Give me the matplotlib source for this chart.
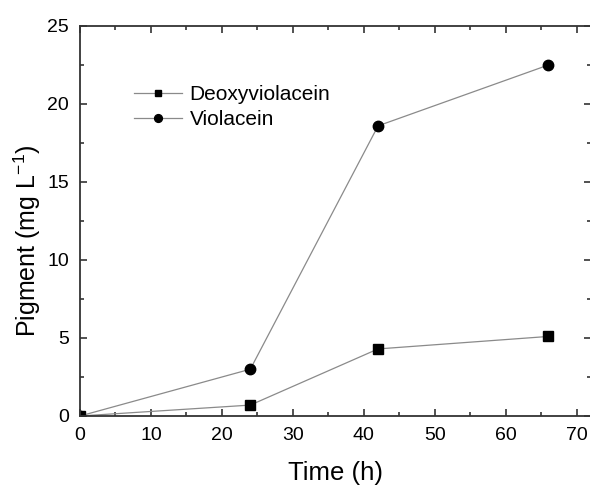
import matplotlib
matplotlib.use("Agg")
import matplotlib.pyplot as plt
from matplotlib.ticker import MultipleLocator

plt.rcParams['font.family'] = ['Liberation Sans', 'DejaVu Sans']
plt.rcParams['mathtext.fontset'] = 'custom'
plt.rcParams['mathtext.rm'] = 'Liberation Sans'
plt.rcParams['mathtext.it'] = 'Liberation Sans:italic'

time_h = [0, 24, 42, 66]
deoxyviolacein = [0.0, 0.7, 4.3, 5.1]
violacein = [0.0, 3.0, 18.6, 22.5]

W, H = 590, 487
fig = plt.figure(figsize=(W / 100, H / 100), dpi=100)
ax = fig.add_axes([80 / W, 1 - 416 / H, 511 / W, 390 / H])

line_kw = dict(color='#8a8a8a', linewidth=0.9, markerfacecolor='black',
               markeredgecolor='black')
ax.plot(time_h, deoxyviolacein, marker='s', markersize=6.5, label='Deoxyviolacein',
        **line_kw)
ax.plot(time_h, violacein, marker='o', markersize=7.5, label='Violacein', **line_kw)

ax.set_xlim(0, 72)
ax.set_ylim(0, 25)
ax.xaxis.set_major_locator(MultipleLocator(10))
ax.xaxis.set_minor_locator(MultipleLocator(5))
ax.yaxis.set_major_locator(MultipleLocator(5))
ax.yaxis.set_minor_locator(MultipleLocator(2.5))

for s in ax.spines.values():
    s.set_linewidth(1.3)
    s.set_color('#333333')
ax.tick_params(which='both', direction='in', top=True, right=True,
               color='#333333', width=1.2)
ax.tick_params(which='major', length=5, labelsize=14, pad=8)
ax.tick_params(which='minor', length=3)

ax.set_xlabel('Time (h)', fontsize=18.5, labelpad=12)
fig.text(27 / W, 1 - 241 / H, 'Pigment (mg L$^{-1}$)', rotation=90, fontsize=18,
         ha='center', va='center')

leg = ax.legend(loc='upper left', bbox_to_anchor=(0.090, 0.870), frameon=False,
                fontsize=15, markerscale=0.75, handlelength=2.3,
                handletextpad=0.35, labelspacing=0.3, borderaxespad=0)

fig.savefig('out.png', dpi=100)
